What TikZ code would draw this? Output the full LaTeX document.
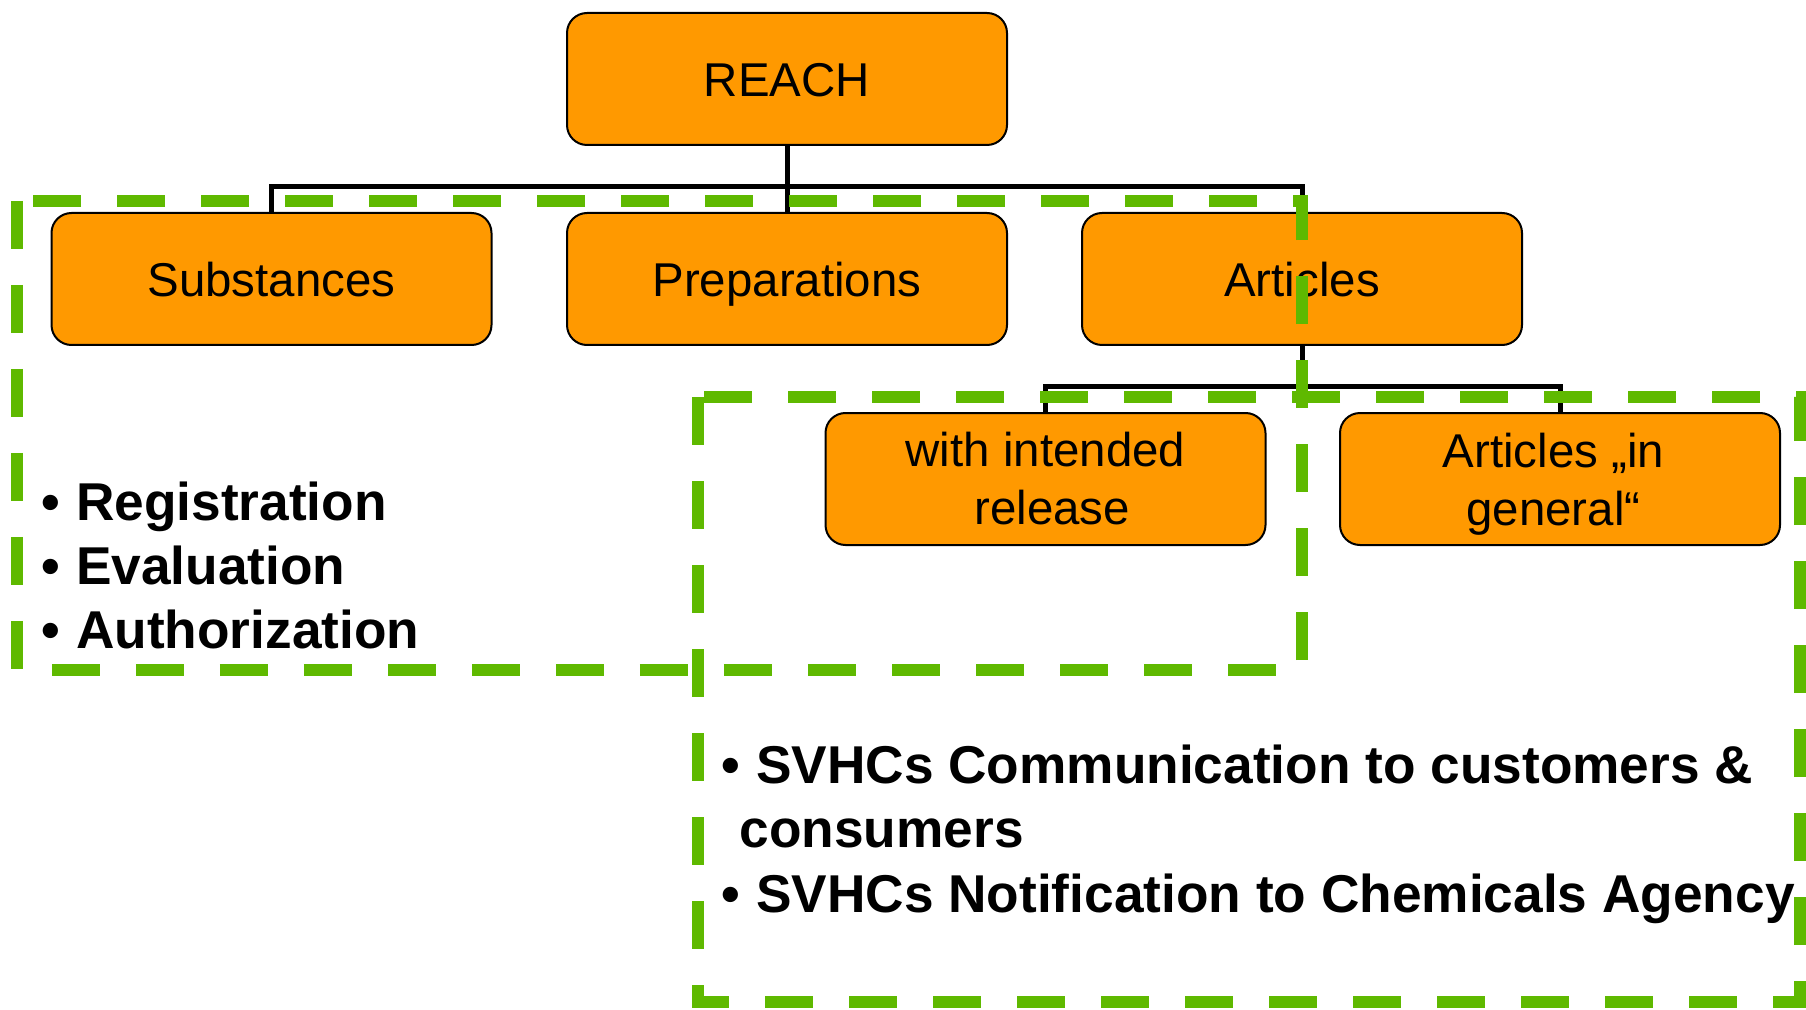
\documentclass[tikz,border=0pt]{standalone}
\usepackage{fontspec}
\usepackage{xcolor}
\usepackage{tikz}
\setmainfont{Liberation Sans}
\definecolor{reachorange}{RGB}{255,153,0}
\definecolor{scopegreen}{RGB}{95,185,0}
\newcommand{\bul}{\makebox[9.8pt][l]{•}}
\tikzstyle{orgbox} = [draw=black, fill=reachorange, line width=0.2mm,
rectangle, rounded corners=2mm, minimum width=44mm, minimum height=13.2mm,
inner sep=0pt, align=center, font=\fontsize{13.5}{16.5}\selectfont]
\tikzstyle{oneline} = [text height=9.7pt, text depth=0pt]
\tikzstyle{conn} = [draw=black, line width=0.5mm]
\tikzstyle{scopeline} = [draw=scopegreen, line width=1.2mm,
dash pattern=on 4.8mm off 3.6mm]
\tikzstyle{listitem} = [anchor=base west, inner sep=0pt,
font=\fontsize{15.15}{18}\selectfont\bfseries]

\begin{document}
\begin{tikzpicture}[x=0.1mm, y=-0.1mm]
        \useasboundingbox (0,0) rectangle (1806,1010);
        \node [orgbox, oneline] (reach) at (787,79) {REACH};
        \node [orgbox, oneline] (subst) at (271.5,279) {Substances};
        \node [orgbox, oneline] (prep) at (787,279) {Preparations};
        \node [orgbox, oneline] (art) at (1302,279) {Articles};
        \node [orgbox] (intended) at (1045.5,479) {with intended\\\hspace*{0.28em}release};
        \node [orgbox] (general) at (1560,479) {Articles „in\hspace*{0.28em}\\\smash{general“}\hspace*{0.28em}};
        \coordinate (bus) at (787,187);
        \coordinate (artbus) at (1302,387);
        \draw [conn] (reach.south) -- (prep.north);
        \draw [conn] (subst.north) |- (bus) -| (art.north);
        \draw [conn] (art.south) -- (artbus);
        \draw [conn] (intended.north) |- (artbus) -| (general.north);
        \node [listitem] (reg) at (41,520) {\bul Registration};
        \node [listitem] (eval) at (41,584) {\bul Evaluation};
        \node [listitem] (auth) at (41,648) {\bul Authorization};
        \node [listitem] (comm) at (721,783) {\bul SVHCs Communication to customers \&};
        \node [listitem] (commb) at (739,847) {consumers};
        \node [listitem] (notif) at (721,912) {\bul SVHCs Notification to Chemicals Agency};
        \draw [scopeline] (17,201) -- (17,670) -- (1302,670) -- (1302,201) -- cycle;
        \draw [scopeline] (698,397) -- (698,1002) -- (1800,1002) -- (1800,397) -- cycle;
\end{tikzpicture}
\end{document}
